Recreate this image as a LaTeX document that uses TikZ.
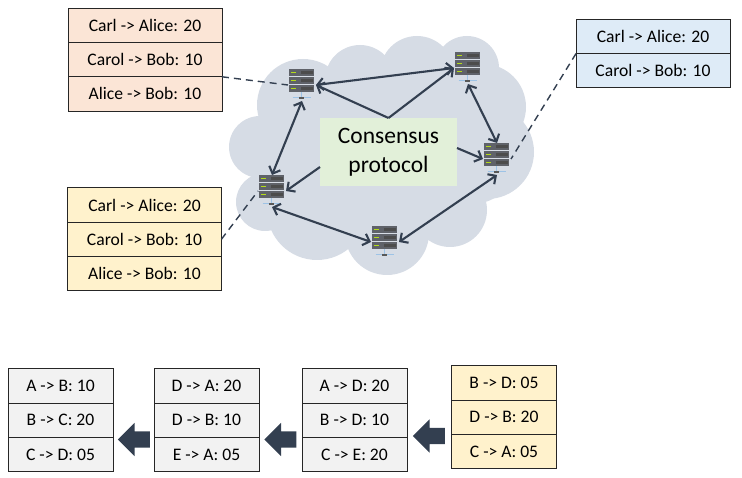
\documentclass[tikz,border=0pt]{standalone}
\usepackage{fontspec}
\setmainfont{Carlito}
\usetikzlibrary{arrows.meta, positioning, shapes.arrows}
\definecolor{cloudfill}{HTML}{D6DCE5}
\definecolor{linknavy}{HTML}{333F50}
\definecolor{peachfill}{HTML}{FBE5D6}
\definecolor{skyfill}{HTML}{DEEBF7}
\definecolor{sandfill}{HTML}{FFF2CC}
\definecolor{greyfill}{HTML}{F2F2F2}
\definecolor{leaffill}{HTML}{E2F0D9}
\definecolor{rackgrey}{HTML}{5F6269}
\definecolor{standblue}{HTML}{9DC3E6}

\begin{document}
\begin{tikzpicture}[x=1pt, y=-1pt]
\tikzset{wide/.style={rectangle, draw=black!85, line width=0.9pt, outer sep=0pt, inner sep=0pt, minimum width=154pt, minimum height=34.2pt, font=\fontsize{17.6}{20}\selectfont},
		narrow/.style={wide, minimum width=105pt},
		peach/.style={wide, fill=peachfill},
		sky/.style={wide, fill=skyfill},
		sand/.style={wide, fill=sandfill},
		plain/.style={narrow, fill=greyfill},
		plainsand/.style={narrow, fill=sandfill},
		srvbox/.style={rectangle, inner sep=0pt, outer sep=0pt, minimum width=28pt, minimum height=32pt},
		link/.style={draw=linknavy, line width=2.1pt, {Straight Barb[length=6pt,width=12pt]}-{Straight Barb[length=6pt,width=12pt]}},
		oneway/.style={draw=linknavy, line width=2.1pt, -{Straight Barb[length=6pt,width=12pt]}},
		tether/.style={draw=linknavy, line width=1.4pt, dash pattern=on 7pt off 5pt},
		bigarrow/.style={single arrow, fill=linknavy, shape border rotate=180, inner xsep=0pt, inner ysep=8pt, outer sep=0pt, minimum height=32pt, single arrow head extend=8.5pt, single arrow tip angle=90},
		server/.pic={
			\foreach \ty in {-16,-8,0} {
				\fill[rackgrey] (-13,\ty) rectangle (12,\ty+7);
				\fill[black!70] (-1,\ty+2.5) rectangle (11,\ty+5);
				\fill[yellow!70!green] (-11,\ty+3) rectangle (-6,\ty+4.5);
			}
			\draw[standblue, line width=1pt] (-0.5,7) -- (-0.5,13);
			\draw[standblue, line width=1pt] (-9.5,13) -- (8.5,13);
			\fill[black!65] (-3,12) rectangle (2,14.5);
		}}

% cloud
\foreach \cx/\cy/\cr in {303/105/46, 360/80/35, 417/73/37, 467/68/32, 483/107/43, 487/152/47, 477/170/33, 450/210/37, 387/233/42, 317/210/50, 265/202/29, 260/147/31, 390/150/90, 330/150/60, 440/140/60} {
	\fill[cloudfill] (\cx,\cy) circle (\cr);
}

% tables
\node[peach] (CarlA) at (145,25.5) {Carl -> Alice: 20};
\node[peach, below=0pt of CarlA] (CarolA) {Carol -> Bob: 10};
\node[peach, below=0pt of CarolA] (AliceA) {Alice -> Bob: 10};
\node[sky] (CarlB) at (653,36.5) {Carl -> Alice: 20};
\node[sky, below=0pt of CarlB] (CarolB) {Carol -> Bob: 10};
\node[sand] (CarlC) at (144.5,205) {Carl -> Alice: 20};
\node[sand, below=0pt of CarlC] (CarolC) {Carol -> Bob: 10};
\node[sand, below=0pt of CarolC] (AliceC) {Alice -> Bob: 10};

% servers
\foreach \name/\px/\py in {SrvA/302/85, SrvB/468/68, SrvC/497/159, SrvD/272/191, SrvE/385/242} {
	\node[srvbox] (\name) at (\px,\py) {};
	\pic at (\name) {server};
}

\node[rectangle, fill=leaffill, align=center, outer sep=0pt, inner sep=0pt, minimum width=137pt, minimum height=68pt, font=\fontsize{23.5}{29}\selectfont] (Cons) at (388.5,152) {Consensus\\protocol};

\draw[link] (SrvA.east) -- (SrvB.west);
\draw[link] (SrvB.south) -- (SrvC.north);
\draw[link] (SrvA.south) -- (SrvD.north);
\draw[link] (SrvD.south) -- (SrvE.west);
\draw[link] (SrvE.east) -- (SrvC.south);
\draw[oneway] (Cons.north) -- (SrvA.east);
\draw[oneway] (Cons.north) -- (SrvB.west);
\draw[oneway] ([yshift=4pt]Cons.east) -- (SrvC.west);
\draw[oneway] ([yshift=-15pt]Cons.west) -- (SrvD.east);

\draw[tether] (AliceA.north east) -- (SrvA.west);
\draw[tether] (CarlB.south west) -- (SrvC.east);
\draw[tether] (CarolC.east) -- (SrvD.west);

% chain
\node[plain] (RowA) at (60.5,386) {A -> B: 10};
\node[plain, below=0pt of RowA] (RowB) {B -> C: 20};
\node[plain, below=0pt of RowB] (RowC) {C -> D: 05};
\node[plain] (RowD) at (206.5,386) {D -> A: 20};
\node[plain, below=0pt of RowD] (RowE) {D -> B: 10};
\node[plain, below=0pt of RowE] (RowF) {E -> A: 05};
\node[plain] (RowG) at (354.5,386) {A -> D: 20};
\node[plain, below=0pt of RowG] (RowH) {B -> D: 10};
\node[plain, below=0pt of RowH] (RowI) {C -> E: 20};
\node[plainsand] (RowJ) at (504,383) {B -> D: 05};
\node[plainsand, below=0pt of RowJ] (RowK) {D -> B: 20};
\node[plainsand, below=0pt of RowK] (RowL) {C -> A: 05};

\node[bigarrow] (GapA) at (138,439.5) {};
\node[bigarrow] (GapB) at (284.5,439.5) {};
\node[bigarrow] (GapC) at (433,436) {};

\useasboundingbox (0,0) rectangle (742,478);
\end{tikzpicture}
\end{document}
